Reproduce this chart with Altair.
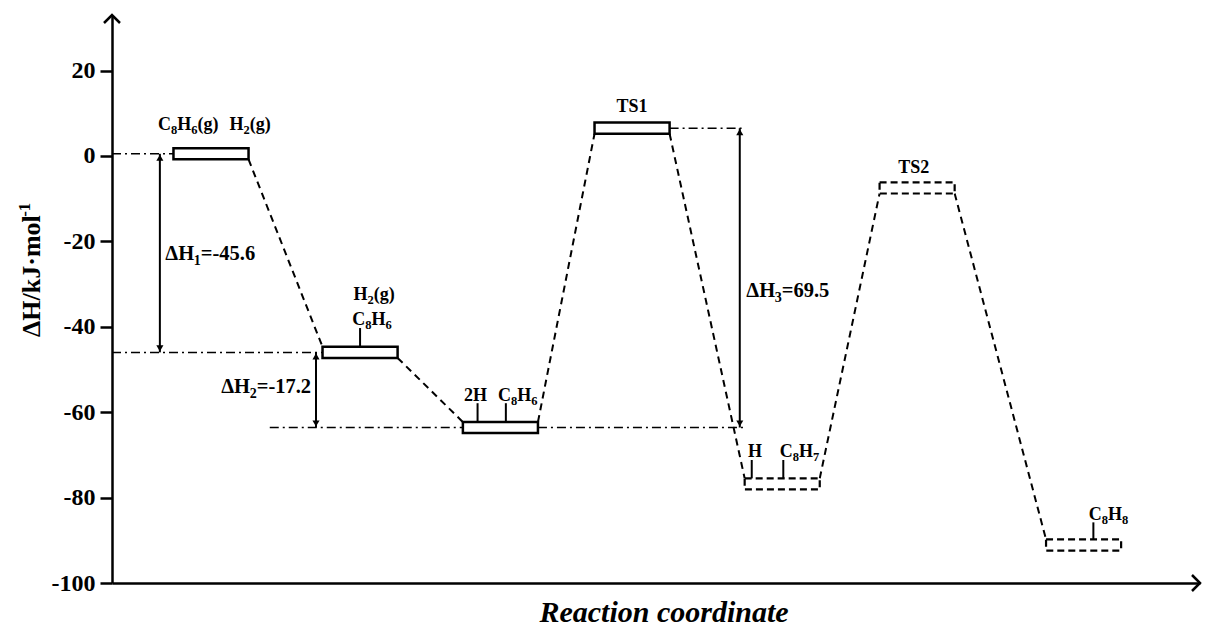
import altair as alt
import pandas as pd

FONT = "Liberation Serif"

# ---- energy levels (box centre energies) ----
level_names = ["C8H6(g)+H2(g)", "C8H6*+H2(g)", "C8H6*+2H*", "TS1", "C8H7*+H*", "TS2", "C8H8*"]
level_x = [0.91, 2.28, 3.57, 4.78, 6.16, 7.40, 8.93]
level_E = [0.5, -46.0, -63.6, 6.5, -76.8, -7.5, -91.1]
level_dashed = [False, False, False, False, True, True, True]
HALF_W = 0.345
HALF_H = 1.3

# ---- dash-dot reference lines ----
ref_E = [0.5, -46.0, -63.6, -63.6, 6.5]
ref_x1 = [0.0, 0.0, 1.45, 3.915, 5.125]
ref_x2 = [0.565, 1.935, 3.225, 5.82, 5.82]

# ---- enthalpy arrows ----
dH_labels = ["ΔH_1=-45.6", "ΔH_2=-17.2", "ΔH_3=69.5"]
dH_x = [0.44, 1.875, 5.77]
dH_top = [0.5, -46.0, 6.5]
dH_bottom = [-46.0, -63.6, -63.6]
dH_label_x = [0.49, 1.83, 5.83]
dH_label_y = [-24.3, -55.6, -33.1]     # baselines
dH_align = ["left", "right", "left"]

# ---- species labels (baselines) ----
sp_text = ["C_8H_6(g)", "H_2(g)", "H_2(g)", "C_8H_6", "2H", "C_8H_6", "TS1", "H", "C_8H_7", "TS2", "C_8H_8"]
sp_x = [0.70, 1.27, 2.41, 2.39, 3.34, 3.73, 4.78, 5.91, 6.32, 7.37, 9.16]
sp_y = [6.0, 6.0, -33.8, -39.6, -57.4, -57.4, 10.2, -70.5, -70.5, -3.9, -85.3]

# ---- small attachment ticks above levels ----
tk_x = [2.28, 3.36, 3.62, 5.88, 6.17, 9.02]
tk_y1 = [-40.3, -57.9, -57.9, -71.2, -71.2, -85.8]
tk_y2 = [-44.7, -62.3, -62.3, -75.5, -75.5, -89.8]

# ---- axis titles ----
ytitle_main, ytitle_sup = "ΔH/kJ·mol", "-1"
xtitle = "Reaction coordinate"

yticks = [-100, -80, -60, -40, -20, 0, 20]
XDOM = [0, 10]
YDOM = [-100, 33]
W, H = 1088, 568
PXX = W / (XDOM[1] - XDOM[0])
PXY = H / (YDOM[1] - YDOM[0])

# Times-Bold advance widths (em/1000)
ADV = {"C": 722, "H": 778, "(": 333, ")": 333, "g": 500, "T": 667, "S": 556, "=": 570,
       "-": 333, ".": 250, "Δ": 612, " ": 250, "/": 278, "k": 556, "J": 500, "·": 250,
       "m": 833, "o": 500, "l": 278}
for d in "0123456789":
    ADV[d] = 500


def segments(markup):
    segs = []
    i = 0
    while i < len(markup):
        if markup[i] == "_":
            segs.append((markup[i + 1], True))
            i += 2
        else:
            segs.append((markup[i], False))
            i += 1
    merged = []
    for ch, sub in segs:
        if merged and merged[-1][1] == sub:
            merged[-1] = (merged[-1][0] + ch, sub)
        else:
            merged.append((ch, sub))
    return merged


def layout(markup, x, y, align, fs, fsub, sub_drop):
    segs = segments(markup)
    widths = [sum(ADV.get(c, 500) for c in s) / 1000 * (fsub if sub else fs) for s, sub in segs]
    total = sum(widths)
    off = {"left": 0, "center": -total / 2, "right": -total}[align]
    rows = []
    for (s, sub), w in zip(segs, widths):
        rows.append({"t": s, "x": x + off / PXX,
                     "y": y - (sub_drop / PXY if sub else 0),
                     "fs": fsub if sub else fs})
        off += w
    return rows


rows = []
for t, x, y in zip(sp_text, sp_x, sp_y):
    rows += layout(t, x, y, "center", 18, 12.5, 4)
for t, x, y, a in zip(dH_labels, dH_label_x, dH_label_y, dH_align):
    rows += layout(t, x, y, a, 20.5, 14, 5)
txt = pd.DataFrame(rows)

xs = alt.Scale(domain=XDOM, nice=False, zero=False)
ys = alt.Scale(domain=YDOM, nice=False, zero=False)
xax = alt.Axis(title="", labels=False, ticks=False, grid=False, domainColor="black", domainWidth=2.5)
yax = alt.Axis(title="", values=yticks, grid=False, labelExpr="'' + datum.value",
               domainColor="black", domainWidth=2.5, tickColor="black", tickWidth=2.5, tickSize=12,
               labelFont=FONT, labelFontSize=24, labelFontWeight="bold", labelColor="black",
               labelPadding=5)


def X(f):
    return alt.X(f, scale=xs, axis=xax)


def Y(f):
    return alt.Y(f, scale=ys, axis=yax)


lv = pd.DataFrame({"name": level_names, "xc": level_x, "E": level_E, "dashed": level_dashed})
lv["x1"] = lv.xc - HALF_W
lv["x2"] = lv.xc + HALF_W
lv["y1"] = lv.E - HALF_H
lv["y2"] = lv.E + HALF_H

crow = []
for i in range(len(lv) - 1):
    a, b = lv.iloc[i], lv.iloc[i + 1]
    if b.E < a.E:
        ya, yb = a.E - HALF_H, b.E + HALF_H
    else:
        ya, yb = a.E + HALF_H, b.E - HALF_H
    crow.append({"x": a.x2, "x2": b.x1, "y": ya, "y2": yb})
conn = pd.DataFrame(crow)

ref = pd.DataFrame({"x": ref_x1, "x2": ref_x2, "y": ref_E})
arr = pd.DataFrame({"x": dH_x, "top": dH_top, "bot": dH_bottom})
tk = pd.DataFrame({"x": tk_x, "y": tk_y1, "y2": tk_y2})

axes = alt.Chart(pd.DataFrame({"x": [XDOM[0]], "y": [YDOM[0]]})).mark_point(opacity=0).encode(
    x=X("x:Q"), y=Y("y:Q"))

arrow_up = alt.Chart(pd.DataFrame({"x": [XDOM[0]], "y": [YDOM[1]]})).mark_point(
    shape="M-1,1L0,0L1,1", filled=False, size=256, stroke="black", strokeWidth=2.5,
    opacity=1).encode(x=X("x:Q"), y=Y("y:Q"))
arrow_right = alt.Chart(pd.DataFrame({"x": [XDOM[1]], "y": [YDOM[0]]})).mark_point(
    shape="M-1,-1L0,0L-1,1", filled=False, size=256, stroke="black", strokeWidth=2.5,
    opacity=1).encode(x=X("x:Q"), y=Y("y:Q"))

connectors = alt.Chart(conn).mark_rule(color="black", strokeWidth=2, strokeDash=[7, 5]).encode(
    x=X("x:Q"), x2="x2:Q", y=Y("y:Q"), y2="y2:Q")

refl = alt.Chart(ref).mark_rule(color="black", strokeWidth=1.5, strokeDash=[9, 4, 2, 4]).encode(
    x=X("x:Q"), x2="x2:Q", y=Y("y:Q"))

solid_boxes = alt.Chart(lv[~lv.dashed]).mark_rect(fill="white", stroke="black", strokeWidth=2.5).encode(
    x=X("x1:Q"), x2="x2:Q", y=Y("y1:Q"), y2="y2:Q")
dashed_boxes = alt.Chart(lv[lv.dashed]).mark_rect(fill="white", stroke="black", strokeWidth=2.2,
                                                  strokeDash=[7, 4]).encode(
    x=X("x1:Q"), x2="x2:Q", y=Y("y1:Q"), y2="y2:Q")

ticks = alt.Chart(tk).mark_rule(color="black", strokeWidth=2).encode(
    x=X("x:Q"), y=Y("y:Q"), y2="y2:Q")

arrow_lines = alt.Chart(arr).mark_rule(color="black", strokeWidth=2).encode(
    x=X("x:Q"), y=Y("top:Q"), y2="bot:Q")
heads_up = alt.Chart(arr).mark_point(shape="triangle-up", filled=True, color="black", size=50,
                                     yOffset=4, opacity=1).encode(x=X("x:Q"), y=Y("top:Q"))
heads_down = alt.Chart(arr).mark_point(shape="triangle-down", filled=True, color="black", size=50,
                                       yOffset=-4, opacity=1).encode(x=X("x:Q"), y=Y("bot:Q"))

labels = alt.Chart(txt).mark_text(font=FONT, fontWeight="bold", color="black", align="left",
                                  baseline="alphabetic").encode(
    x=X("x:Q"), y=Y("y:Q"), text="t:N", size=alt.Size("fs:Q", scale=None))

# y-axis title, rotated, with superscript
yt_fs, yt_sup = 26, 17
yt_base_x = (40 - 112) / PXX
yt_start_y = YDOM[0] + (583 - 337) / PXY
main_len = sum(ADV[c] for c in ytitle_main) / 1000 * yt_fs
ytdf = pd.DataFrame([
    {"t": ytitle_main, "x": yt_base_x, "y": yt_start_y, "fs": yt_fs},
    {"t": ytitle_sup, "x": yt_base_x - 10 / PXX, "y": yt_start_y + (main_len + 1) / PXY, "fs": yt_sup},
])
ytitle = alt.Chart(ytdf).mark_text(font=FONT, fontWeight="bold", color="black", align="left",
                                   baseline="alphabetic", angle=270).encode(
    x=X("x:Q"), y=Y("y:Q"), text="t:N", size=alt.Size("fs:Q", scale=None))

xtdf = pd.DataFrame({"t": [xtitle], "x": [(664 - 112) / PXX], "y": [YDOM[0] - (622 - 583) / PXY]})
xtitle_l = alt.Chart(xtdf).mark_text(font=FONT, fontWeight="bold", fontStyle="italic", fontSize=30,
                                     color="black", align="center", baseline="alphabetic").encode(
    x=X("x:Q"), y=Y("y:Q"), text="t:N")

chart = alt.layer(
    axes, refl, connectors, solid_boxes, dashed_boxes, ticks,
    arrow_lines, heads_up, heads_down, labels, ytitle, xtitle_l, arrow_up, arrow_right
).properties(
    width=W, height=H,
    padding={"left": 112, "top": 15, "right": 6, "bottom": 46},
    autosize=alt.AutoSizeParams(type="none"),
    background="white",
).configure_view(stroke="transparent")

chart.save("out.html", embed_options={"renderer": "svg", "actions": False})
